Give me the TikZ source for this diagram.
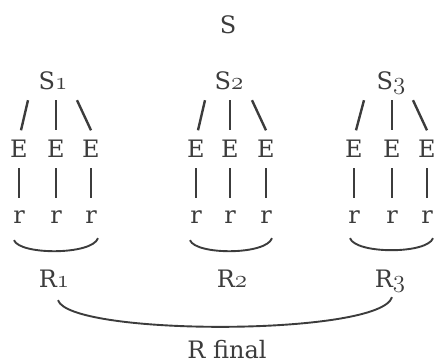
\documentclass[tikz,border=0pt]{standalone}
\usepackage{fontspec}
\setmainfont{DejaVu Serif}
\usetikzlibrary{calc}
\definecolor{ink}{HTML}{3C3C3C}
\newcommand\osn[1]{{\fontencoding{OML}\fontfamily{cmm}\fontseries{m}\fontshape{it}\fontsize{27}{28}\selectfont #1}}
\begin{document}
\begin{tikzpicture}[x=1pt,y=-1pt,
  lbl/.style={inner sep=0pt,anchor=base,text=ink,text depth=0pt,font=\fontsize{24}{28}\selectfont},
  conn/.style={draw=ink,line width=2.4pt},
  brace/.style={draw=ink,line width=1.9pt}]
\useasboundingbox (0,0) rectangle (440,362);
% labels
\node[lbl] (s) at (228,33) {S};
\node[lbl] (s1) at (53,89) {S\osn{1}};
\node[lbl] (s2) at (229,89) {S\osn{2}};
\node[lbl] (s3) at (391,89) {S\osn{3}};
% E row
\node[lbl] (e11) at (19,157) {E};
\node[lbl] (e12) at (56,157) {E};
\node[lbl] (e13) at (91,157) {E};
\node[lbl] (e21) at (196,157) {E};
\node[lbl] (e22) at (230,157) {E};
\node[lbl] (e23) at (266,157) {E};
\node[lbl] (e31) at (354,157) {E};
\node[lbl] (e32) at (392,157) {E};
\node[lbl] (e33) at (427,157) {E};
% r row
\node[lbl] (r11) at (19,223) {r};
\node[lbl] (r12) at (56,223) {r};
\node[lbl] (r13) at (91,223) {r};
\node[lbl] (r21) at (196,223) {r};
\node[lbl] (r22) at (230,223) {r};
\node[lbl] (r23) at (266,223) {r};
\node[lbl] (r31) at (354,223) {r};
\node[lbl] (r32) at (392,223) {r};
\node[lbl] (r33) at (427,223) {r};
% R labels
\node[lbl] (R1) at (54,287) {R\osn{1}};
\node[lbl] (R2) at (232,287) {R\osn{2}};
\node[lbl] (R3) at (390,287) {R\osn{3}};
\node[lbl] (Rf) at (227,358) {R final};
% S -> E strokes
\draw[conn] ([shift={(-25,11)}]s1.south) -- ([shift={(2,-9)}]e11.north);
\draw[conn] ([shift={(3,11)}]s1.south) -- ([shift={(0,-9)}]e12.north);
\draw[conn] ([shift={(24,11)}]s1.south) -- ([shift={(0,-9)}]e13.north);
\draw[conn] ([shift={(-24,11)}]s2.south) -- ([shift={(2,-9)}]e21.north);
\draw[conn] ([shift={(1,11)}]s2.south) -- ([shift={(0,-9)}]e22.north);
\draw[conn] ([shift={(23,11)}]s2.south) -- ([shift={(0,-9)}]e23.north);
\draw[conn] ([shift={(-27,11)}]s3.south) -- ([shift={(2,-9)}]e31.north);
\draw[conn] ([shift={(1,11)}]s3.south) -- ([shift={(0,-9)}]e32.north);
\draw[conn] ([shift={(22,11)}]s3.south) -- ([shift={(0,-9)}]e33.north);
% E -> r strokes
\foreach \t in {1,2,3}{
  \foreach \k in {1,2,3}{
    \draw[conn] ([shift={(0,11)}]e\t\k.south) -- ([shift={(0,-12)}]r\t\k.north);
  }
}
% braces
\draw[brace] ([shift={(-5,17)}]r11.south) .. controls +(6,15) and +(-6,17) .. ([shift={(7,15)}]r13.south);
\draw[brace] ([shift={(-6,17)}]r21.south) .. controls +(6,15) and +(-6,17) .. ([shift={(6,15)}]r23.south);
\draw[brace] ([shift={(-4,15)}]r31.south) .. controls +(6,16) and +(-6,16) .. ([shift={(6,15)}]r33.south);
% final curve
\draw[brace] ([shift={(4,13)}]R1.south) .. controls +(12,36) and +(-12,39) .. ([shift={(2,10)}]R3.south);
\end{tikzpicture}
\end{document}
